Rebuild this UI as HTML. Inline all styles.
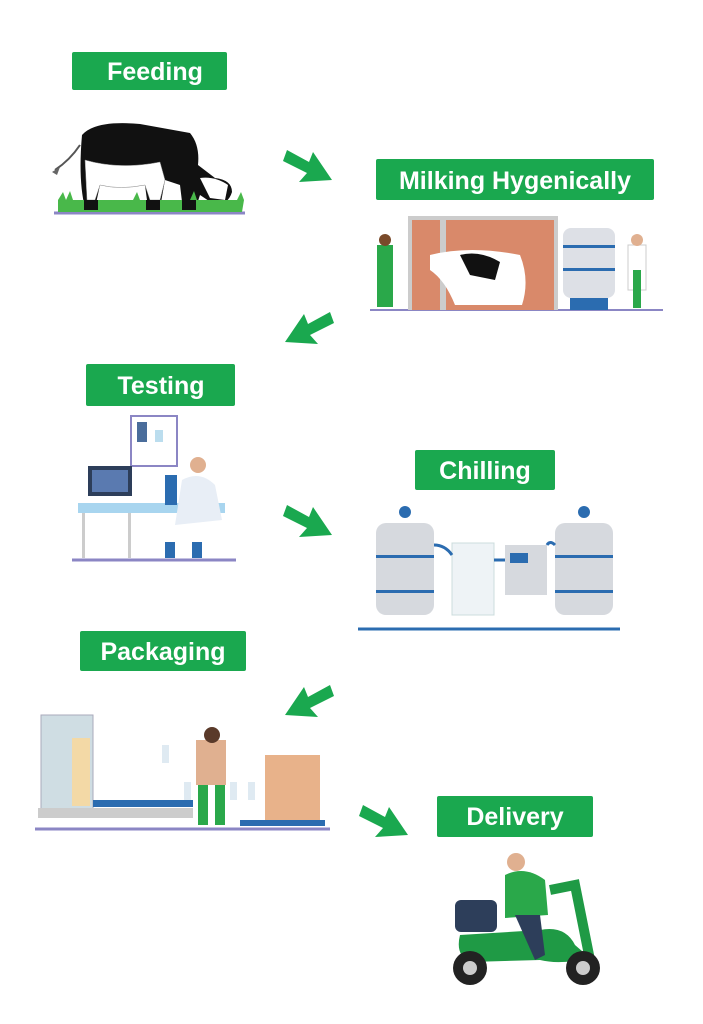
<!DOCTYPE html>
<html><head><meta charset="utf-8"><style>
body{margin:0;background:#fff;width:703px;height:1024px;overflow:hidden}
svg{display:block}
.l{font-family:"Liberation Sans",sans-serif;font-weight:bold;fill:#fff;font-size:25px}
</style></head><body>
<svg width="703" height="1024" viewBox="0 0 703 1024">
<defs>
<g id="ar"><polygon points="0,10 22,22 26,12 45,40 12,42 20,33 -4,21" fill="#1aa84f"/></g>
</defs>
<rect x="72" y="52" width="155" height="38" rx="2" fill="#1aa84f"/><text class="l" x="155" y="80" text-anchor="middle">Feeding</text>
<rect x="376" y="159" width="278" height="41" rx="2" fill="#1aa84f"/><text class="l" x="515" y="189" text-anchor="middle" font-size="23">Milking Hygenically</text>
<rect x="86" y="364" width="149" height="42" rx="2" fill="#1aa84f"/><text class="l" x="161" y="394" text-anchor="middle">Testing</text>
<rect x="415" y="450" width="140" height="40" rx="2" fill="#1aa84f"/><text class="l" x="485" y="479" text-anchor="middle">Chilling</text>
<rect x="80" y="631" width="166" height="40" rx="2" fill="#1aa84f"/><text class="l" x="163" y="660" text-anchor="middle">Packaging</text>
<rect x="437" y="796" width="156" height="41" rx="2" fill="#1aa84f"/><text class="l" x="515" y="825" text-anchor="middle">Delivery</text>
<use href="#ar" x="287" y="140"/>
<use href="#ar" x="287" y="495"/>
<use href="#ar" x="363" y="795"/>
<g transform="translate(330,302) scale(-1,1)"><use href="#ar"/></g>
<g transform="translate(330,675) scale(-1,1)"><use href="#ar"/></g>
<!-- cow -->
<line x1="54" y1="213" x2="245" y2="213" stroke="#8b86c4" stroke-width="3"/>
<path d="M82,135 Q95,120 140,124 L190,133 Q200,145 198,165 L215,178 Q232,180 232,192 Q228,205 215,205 L200,195 L195,210 L183,210 L180,185 L165,180 L160,208 L148,208 L145,185 Q120,190 100,185 L95,208 L85,208 Q78,180 82,135Z" fill="#111"/>
<path d="M85,160 Q120,170 160,162 L165,180 L160,200 L150,200 L145,185 Q120,190 100,185 L95,200 L87,200Z" fill="#fff" stroke="#888" stroke-width="0.5"/>
<path d="M200,178 Q215,176 228,185 L225,200 L210,198Z" fill="#fff"/>
<path d="M55,170 Q70,160 80,145" stroke="#555" stroke-width="2" fill="none"/>
<path d="M52,172 l8,-5 l-3,8z" fill="#666"/>
<path d="M58,200 l5,-8 l3,8 l4,-9 l3,9 l60,0 l4,-8 l3,8 l50,0 l4,-9 l3,9 l40,0 l4,-8 l3,8 L242,212 L58,212Z" fill="#49b84a"/>
<g fill="#111"><rect x="84" y="200" width="14" height="10"/><rect x="146" y="200" width="14" height="10"/><rect x="182" y="200" width="14" height="10"/></g>
<!-- milking -->
<line x1="370" y1="310" x2="663" y2="310" stroke="#8b86c4" stroke-width="2"/>
<rect x="408" y="216" width="150" height="94" fill="#ccc"/>
<rect x="412" y="220" width="142" height="90" fill="#d9896a"/>
<rect x="440" y="220" width="6" height="90" fill="#ccc"/>
<path d="M430,255 Q470,245 520,255 Q530,280 522,305 L455,305 Q445,280 430,270Z" fill="#fff"/>
<path d="M460,255 Q480,250 500,262 L495,280 L470,275Z" fill="#111"/>
<rect x="563" y="228" width="52" height="70" rx="8" fill="#dde0e6"/>
<rect x="563" y="245" width="52" height="3" fill="#2b6cb0"/><rect x="563" y="268" width="52" height="3" fill="#2b6cb0"/>
<rect x="570" y="298" width="38" height="12" fill="#2b6cb0"/>
<rect x="377" y="245" width="16" height="62" fill="#2aa84a"/><circle cx="385" cy="240" r="6" fill="#7a4a2a"/>
<rect x="628" y="245" width="18" height="45" fill="#fff" stroke="#ccc"/><rect x="633" y="270" width="8" height="38" fill="#2aa84a"/><circle cx="637" cy="240" r="6" fill="#e0b090"/>
<!-- testing -->
<line x1="72" y1="560" x2="236" y2="560" stroke="#8b86c4" stroke-width="3"/>
<rect x="131" y="416" width="46" height="50" fill="#fff" stroke="#8b86c4" stroke-width="2"/>
<rect x="137" y="422" width="10" height="20" fill="#4a6d9b"/><rect x="155" y="430" width="8" height="12" fill="#bde"/>
<rect x="78" y="503" width="147" height="10" fill="#a8d5ef"/>
<rect x="88" y="466" width="44" height="30" fill="#2d3e5a"/><rect x="92" y="470" width="36" height="22" fill="#5a7ab0"/>
<rect x="82" y="513" width="3" height="45" fill="#ccc"/><rect x="128" y="513" width="3" height="45" fill="#ccc"/>
<path d="M182,480 Q200,470 215,485 L222,520 L175,525Z" fill="#e8eef6"/>
<circle cx="198" cy="465" r="8" fill="#e0b090"/>
<rect x="165" y="542" width="10" height="16" fill="#2b6cb0"/><rect x="192" y="542" width="10" height="16" fill="#2b6cb0"/>
<rect x="165" y="475" width="12" height="30" fill="#2b6cb0"/>
<!-- chilling -->
<line x1="358" y1="629" x2="620" y2="629" stroke="#2b6cb0" stroke-width="3"/>
<rect x="376" y="523" width="58" height="92" rx="10" fill="#d6d9de"/>
<rect x="376" y="555" width="58" height="3" fill="#2b6cb0"/><rect x="376" y="590" width="58" height="3" fill="#2b6cb0"/>
<circle cx="405" cy="512" r="6" fill="#2b6cb0"/>
<rect x="452" y="543" width="42" height="72" fill="#eef3f6" stroke="#cdd" />
<rect x="505" y="545" width="42" height="50" fill="#d6d9de"/><rect x="510" y="553" width="18" height="10" fill="#2b6cb0"/>
<rect x="555" y="523" width="58" height="92" rx="10" fill="#d6d9de"/>
<rect x="555" y="555" width="58" height="3" fill="#2b6cb0"/><rect x="555" y="590" width="58" height="3" fill="#2b6cb0"/>
<circle cx="584" cy="512" r="6" fill="#2b6cb0"/>
<path d="M434,545 Q445,545 452,555 M494,560 L505,560 M547,545 Q550,540 555,545" stroke="#2b6cb0" stroke-width="3" fill="none"/>
<!-- packaging -->
<line x1="35" y1="829" x2="330" y2="829" stroke="#8b86c4" stroke-width="3"/>
<rect x="41" y="715" width="52" height="95" fill="#cfdde3" stroke="#aab" />
<rect x="72" y="738" width="18" height="68" fill="#f3d9a6"/>
<rect x="93" y="800" width="100" height="7" fill="#2b6cb0"/>
<rect x="38" y="808" width="155" height="10" fill="#ccc"/>
<rect x="196" y="740" width="30" height="45" fill="#e0b090"/><circle cx="212" cy="735" r="8" fill="#5a3a2a"/>
<rect x="198" y="785" width="10" height="40" fill="#2aa84a"/><rect x="215" y="785" width="10" height="40" fill="#2aa84a"/>
<rect x="265" y="755" width="55" height="65" fill="#e8b28a"/>
<rect x="240" y="820" width="85" height="6" fill="#2b6cb0"/>
<g fill="#dfeaf2"><rect x="184" y="782" width="7" height="18"/><rect x="230" y="782" width="7" height="18"/><rect x="248" y="782" width="7" height="18"/><rect x="162" y="745" width="7" height="18"/></g>
<!-- delivery -->
<rect x="455" y="900" width="42" height="32" rx="6" fill="#2d3e5a"/>
<path d="M460,935 L540,930 Q565,925 575,945 L590,958 Q560,965 540,960 L470,962 Q455,955 460,935Z" fill="#1f9a45"/>
<path d="M550,890 L575,885 L590,960" stroke="#1f9a45" stroke-width="10" fill="none"/>
<circle cx="470" cy="968" r="17" fill="#222"/><circle cx="470" cy="968" r="7" fill="#ccc"/>
<circle cx="583" cy="968" r="17" fill="#222"/><circle cx="583" cy="968" r="7" fill="#ccc"/>
<path d="M505,875 Q525,865 545,880 L548,915 L505,918Z" fill="#2aa84a"/>
<circle cx="516" cy="862" r="9" fill="#e0b090"/>
<path d="M515,915 L540,915 L545,955 L535,960Z" fill="#2d3e5a"/>
</svg>
</body></html>
